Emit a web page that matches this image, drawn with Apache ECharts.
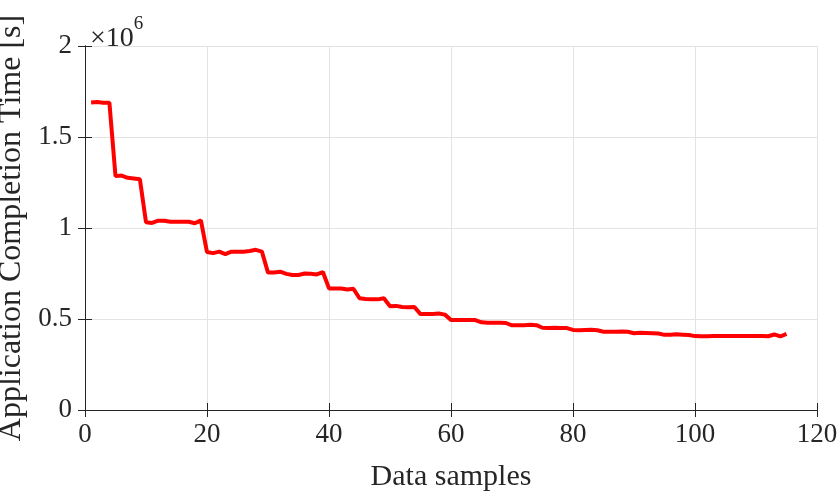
<!DOCTYPE html>
<html>
<head>
<meta charset="utf-8">
<script src="https://cdn.jsdelivr.net/npm/echarts@6/dist/echarts.min.js"></script>
<style>html,body{margin:0;padding:0;background:#fff}#c{width:840px;height:495px}</style>
</head>
<body>
<div id="c"></div>
<script>
const samples = [];
for (let i = 1; i <= 115; i++) samples.push(i);
// values in units of 1e6 s
const completionTime = [
1.690,1.692,1.688,1.688,
1.285,1.288,1.276,1.272,1.268,
1.032,1.028,1.040,1.040,1.034,1.034,1.034,1.034,1.026,1.042,
0.868,0.862,0.870,0.856,0.870,0.870,0.870,0.874,0.880,0.870,
0.755,0.756,0.760,0.748,0.742,0.742,0.750,0.748,0.745,0.758,
0.668,0.668,0.668,0.662,0.666,
0.614,0.610,0.608,0.608,0.614,
0.570,0.572,0.566,0.564,0.566,
0.527,0.528,0.528,0.530,0.524,
0.495,0.494,0.494,0.494,0.494,
0.482,0.480,0.480,0.480,0.478,
0.465,0.466,0.466,0.468,0.466,
0.452,0.450,0.452,0.450,0.450,
0.440,0.438,0.440,0.441,0.438,
0.430,0.430,0.430,0.431,0.430,
0.422,0.424,0.423,0.422,0.420,
0.413,0.414,0.416,0.414,0.412,
0.406,0.405,0.405,0.406,0.406,0.406,0.406,0.406,0.407,0.406,0.406,0.406,0.405,0.415,0.404,0.418
];
const xTicks = [0, 20, 40, 60, 80, 100, 120];
const yTicks = [0, 0.5, 1, 1.5, 2];

const FONT = '"Liberation Serif", "DejaVu Serif", serif';
const AX = '#262626';
const chart = echarts.init(document.getElementById('c'), null, {renderer: 'canvas'});
const data = samples.map((s, i) => [s, completionTime[i] * 1e6]);
const yLabel = v => { const u = v / 1e6; return yTicks.includes(u) ? String(u) : ''; };

chart.setOption({
  animation: false,
  backgroundColor: '#fff',
  title: {
    text: '{a|×10}{b|6}',
    left: 85, top: 10,
    textStyle: {
      fontWeight: 'normal',
      rich: {
        a: {fontFamily: FONT, fontSize: 28, fontWeight: 'normal', color: AX, verticalAlign: 'bottom', padding: [10, 0, 0, 0]},
        b: {fontFamily: FONT, fontSize: 19, fontWeight: 'normal', color: AX, verticalAlign: 'top', padding: [0, 0, 12, 0]}
      }
    }
  },
  grid: {left: 85, right: 23, top: 46, bottom: 85, show: false, containLabel: false, outerBoundsMode: 'none'},
  xAxis: [{
    type: 'value', min: 0, max: 120, interval: 20,
    name: 'Data samples', nameLocation: 'middle', nameGap: 52,
    nameTextStyle: {fontFamily: FONT, fontSize: 30, color: AX},
    axisLine: {show: true, lineStyle: {color: AX, width: 1}},
    axisTick: {show: true, inside: true, length: 7, lineStyle: {color: AX}},
    axisLabel: {fontFamily: FONT, fontSize: 27, color: AX, margin: 11},
    splitLine: {show: true, lineStyle: {color: '#e3e3e3', width: 1}}
  }, {
    type: 'value', min: 0, max: 120, interval: 20, position: 'top',
    axisLine: {show: true, lineStyle: {color: AX, width: 1}},
    axisTick: {show: true, inside: true, length: 7, lineStyle: {color: AX}},
    axisLabel: {show: false}, splitLine: {show: false}
  }],
  yAxis: [{
    type: 'value', min: 0, max: 2e6, interval: 5e5,
    name: 'Application Completion Time [s]', nameLocation: 'middle', nameGap: 54,
    nameTextStyle: {fontFamily: FONT, fontSize: 32, color: AX},
    axisLine: {show: true, lineStyle: {color: AX, width: 1}},
    axisTick: {show: true, inside: true, length: 7, lineStyle: {color: AX}},
    axisLabel: {fontFamily: FONT, fontSize: 27, color: AX, margin: 13, formatter: yLabel},
    splitLine: {show: true, lineStyle: {color: '#e3e3e3', width: 1}}
  }, {
    type: 'value', min: 0, max: 2e6, interval: 5e5, position: 'right',
    axisLine: {show: true, lineStyle: {color: AX, width: 1}},
    axisTick: {show: true, inside: true, length: 7, lineStyle: {color: AX}},
    axisLabel: {show: false}, splitLine: {show: false}
  }],
  series: [{
    type: 'line', data: data, showSymbol: false, symbol: 'none',
    lineStyle: {color: '#ff0000', width: 4}, clip: false
  }]
});
</script>
</body>
</html>
